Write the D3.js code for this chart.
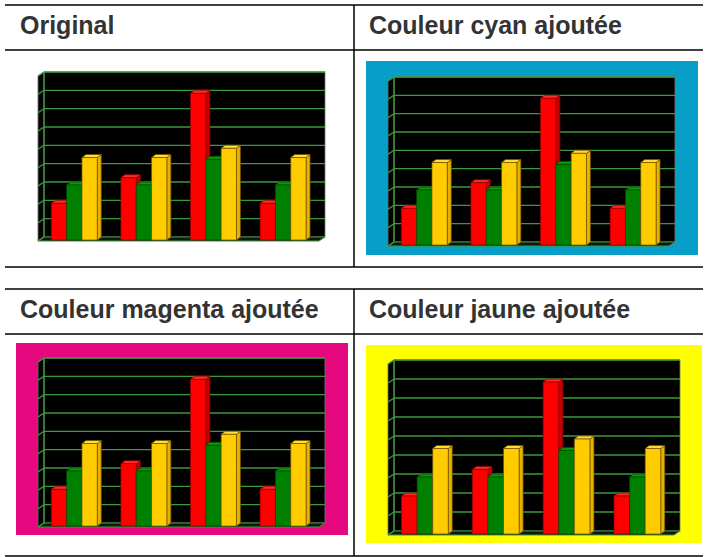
<!DOCTYPE html>
<html>
<head>
<meta charset="utf-8">
<script src="https://cdn.jsdelivr.net/npm/d3@7"></script>
<style>
  body { margin: 0; background: #fff; }
  svg { display: block; }
</style>
</head>
<body>
<div id="chart"></div>
<script>
// data
var categories = ["A", "B", "C", "D"];
var seriesNames = ["rouge", "vert", "jaune"];
var rouge = [2, 3.4, 8, 2];
var vert = [3, 3, 4.4, 3];
var jaune = [4.5, 4.5, 5, 4.5];
var yTicks = [0, 1, 2, 3, 4, 5, 6, 7, 8, 9];
var titles = ["Original", "Couleur cyan ajoutée", "Couleur magenta ajoutée", "Couleur jaune ajoutée"];

var values = { rouge: rouge, vert: vert, jaune: jaune };
var barColors = {
    rouge: { front: "#ff0000", side: "#c40000", top: "#ff2a2a", stroke: "#9a0000" },
    vert:  { front: "#008000", side: "#005400", top: "#00a000", stroke: "#004a00" },
    jaune: { front: "#ffcc00", side: "#e8b000", top: "#ffdd33", stroke: "#6e5200" }
};

var width = 707, height = 557;

var svg = d3.select("#chart").append("svg")
    .attr("width", width)
    .attr("height", height);

svg.append("rect").attr("width", width).attr("height", height).attr("fill", "#fff");

// panels: background and back wall of each chart
var panels = [
    { title: titles[0], tx: 20,  ty: 34,  bg: null,      bx: 0,   by: 0,   bw: 0,   bh: 0,   px: 44,  py: 72,  pw: 281, ph: 165 },
    { title: titles[1], tx: 369, ty: 34,  bg: "#079fc8", bx: 366, by: 61,  bw: 332, bh: 194, px: 394, py: 77,  pw: 281, ph: 165 },
    { title: titles[2], tx: 20,  ty: 318, bg: "#e6087f", bx: 16,  by: 343, bw: 332, bh: 192, px: 44,  py: 358, pw: 281, ph: 165 },
    { title: titles[3], tx: 369, ty: 318, bg: "#ffff00", bx: 366, by: 345, bw: 336, bh: 198, px: 394, py: 360, pw: 286, ph: 171 }
];

// table rules
var rules = svg.append("g").attr("stroke", "#000").attr("stroke-width", 1.5);
[[5, 5, 703, 5], [5, 50, 703, 50], [5, 267, 703, 267],
 [5, 289, 703, 289], [5, 334, 703, 334], [5, 556, 703, 556],
 [354, 5, 354, 267], [354, 289, 354, 556]].forEach(function (l) {
    rules.append("line").attr("x1", l[0]).attr("y1", l[1]).attr("x2", l[2]).attr("y2", l[3]);
});

panels.forEach(function (p) {
    var g = svg.append("g");

    g.append("text")
        .attr("x", p.tx)
        .attr("y", p.ty)
        .attr("font-family", "'Liberation Sans', Arial, sans-serif")
        .attr("font-weight", "bold")
        .attr("font-size", 25)
        .attr("fill", "#333")
        .text(p.title);

    if (p.bg) {
        g.append("rect")
            .attr("x", p.bx).attr("y", p.by)
            .attr("width", p.bw).attr("height", p.bh)
            .attr("fill", p.bg);
    }

    drawChart(g, p);
});

function drawChart(g, p) {
    var dx = 6, dy = 4;     // wall depth
    var bdx = 4, bdy = 3;   // bar depth

    var y = d3.scaleLinear()
        .domain([0, 9])
        .range([p.py + p.ph, p.py]);

    var x0 = d3.scaleBand()
        .domain(categories)
        .range([p.px + p.pw * 0.012, p.px + p.pw * 0.968])
        .paddingInner(0.34)
        .paddingOuter(0.1);

    var x1 = d3.scaleBand()
        .domain(seriesNames)
        .range([0, x0.bandwidth()]);

    var y0 = y(0);

    // back wall
    g.append("rect")
        .attr("x", p.px).attr("y", p.py)
        .attr("width", p.pw).attr("height", p.ph)
        .attr("fill", "#000")
        .attr("stroke", "#777")
        .attr("stroke-width", 0.8);

    // left wall
    g.append("path")
        .attr("d", "M" + (p.px - dx) + "," + (p.py + dy) +
                   "L" + p.px + "," + p.py +
                   "L" + p.px + "," + y0 +
                   "L" + (p.px - dx) + "," + (y0 + dy) + "Z")
        .attr("fill", "#050505")
        .attr("stroke", "#6a6a6a")
        .attr("stroke-width", 0.8);

    // floor
    g.append("path")
        .attr("d", "M" + p.px + "," + y0 +
                   "L" + (p.px + p.pw) + "," + y0 +
                   "L" + (p.px + p.pw - dx) + "," + (y0 + dy) +
                   "L" + (p.px - dx) + "," + (y0 + dy) + "Z")
        .attr("fill", "#101810")
        .attr("stroke", "#3c9a3c")
        .attr("stroke-width", 1);

    // grid lines on back wall and ticks on left wall
    var grid = g.append("g").attr("stroke", "#3c9a3c").attr("stroke-width", 1.3);
    grid.selectAll(".h")
        .data(yTicks.slice(1))
        .enter().append("line")
        .attr("x1", p.px).attr("x2", p.px + p.pw)
        .attr("y1", function (d) { return y(d); })
        .attr("y2", function (d) { return y(d); });
    grid.selectAll(".t")
        .data(yTicks)
        .enter().append("line")
        .attr("x1", p.px - dx).attr("x2", p.px)
        .attr("y1", function (d) { return y(d) + dy; })
        .attr("y2", function (d) { return y(d); });
    grid.append("line")
        .attr("x1", p.px).attr("x2", p.px)
        .attr("y1", p.py).attr("y2", y0);

    // bars
    var base = y0 + 3;
    categories.forEach(function (c, i) {
        seriesNames.forEach(function (s) {
            var v = values[s][i];
            var col = barColors[s];
            var bx = x0(c) + x1(s) - 3;
            var bw = x1.bandwidth();
            var top = y(v) + 3;
            var bar = g.append("g")
                .attr("stroke", col.stroke)
                .attr("stroke-width", 0.7)
                .attr("stroke-linejoin", "round");

            // side face
            bar.append("path")
                .attr("d", "M" + (bx + bw) + "," + top +
                           "L" + (bx + bw + bdx) + "," + (top - bdy) +
                           "L" + (bx + bw + bdx) + "," + (base - bdy) +
                           "L" + (bx + bw) + "," + base + "Z")
                .attr("fill", col.side);
            // top face
            bar.append("path")
                .attr("d", "M" + bx + "," + top +
                           "L" + (bx + bdx) + "," + (top - bdy) +
                           "L" + (bx + bw + bdx) + "," + (top - bdy) +
                           "L" + (bx + bw) + "," + top + "Z")
                .attr("fill", col.top);
            // front face
            bar.append("rect")
                .attr("x", bx).attr("y", top)
                .attr("width", bw).attr("height", base - top)
                .attr("fill", col.front);
        });
    });
}
</script>
</body>
</html>
